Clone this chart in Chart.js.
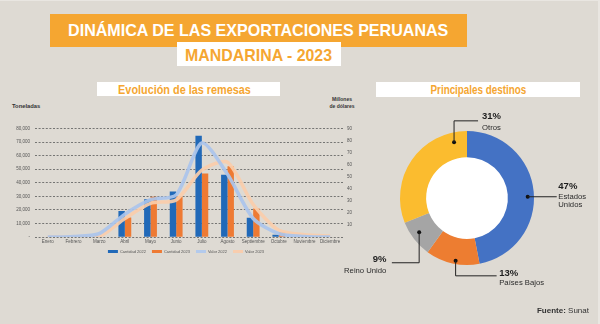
<!DOCTYPE html>
<html>
<head>
<meta charset="utf-8">
<script src="https://cdn.jsdelivr.net/npm/chart.js@4.4.0/dist/chart.umd.min.js"></script>
<style>
  html, body { margin: 0; padding: 0; }
  body {
    width: 600px; height: 324px; position: relative; overflow: hidden;
    background: #dedad3; font-family: "Liberation Sans", Arial, sans-serif;
  }
  body::after { content: ""; position: absolute; left: 0; top: 0; right: 0; bottom: 0;
    border-top: 1px solid #e9e6e1; border-right: 2px solid #e9e6e1; pointer-events: none; }
  .abs { position: absolute; }
  .narrow { font-family: "Liberation Sans", Arial, sans-serif; font-weight: bold; white-space: nowrap; text-align: center; }
  .narrow span { display: inline-block; transform-origin: 50% 50%; }
  #titleBox { left: 50px; top: 14px; width: 417px; height: 33px; background: #f5a631; }
  #title { left: 50px; width: 417px; top: 22px; font-size: 17px; line-height: 17px; color: #fff; }
  #title span { transform: scaleX(0.945); }
  #subBox { left: 177px; top: 42px; width: 164px; height: 24px; background: #fff; }
  #sub { left: 177px; width: 164px; top: 47px; font-size: 17px; line-height: 17px; color: #f5a631; }
  #sub span { transform: scaleX(0.935); }
  .hdrBox { background: #fff; height: 14px; }
  .hdr { color: #f5a631; }
  .hdr span { transform: scaleX(0.82); }
  #ton { left: 12px; top: 103px; font-size: 5.8px; line-height: 6px; font-weight: bold; color: #333; }
  #mill { left: 322px; width: 40px; top: 96px; font-size: 5px; line-height: 6.7px; font-weight: bold; color: #333; text-align: center; }
  #fuente { right: 11px; top: 307px; font-size: 8px; line-height: 8px; color: #333; }
  #barChart { left: 0; top: 109px; }
  #pieChart { left: 330px; top: 100px; }
</style>
</head>
<body>
<div class="abs" id="titleBox"></div>
<div class="abs narrow" id="title"><span>DINÁMICA DE LAS EXPORTACIONES PERUANAS</span></div>
<div class="abs" id="subBox"></div>
<div class="abs narrow" id="sub"><span>MANDARINA - 2023</span></div>

<div class="abs hdrBox" style="left:97px;top:82px;width:183px;"></div>
<div class="abs narrow hdr" style="left:93px;top:82.5px;width:183px;font-size:13px;line-height:13px;"><span style="transform:scaleX(0.835)">Evolución de las remesas</span></div>
<div class="abs hdrBox" style="left:376px;top:82px;width:204px;height:15px;"></div>
<div class="abs narrow hdr" style="left:376px;top:83.5px;width:204px;font-size:12px;line-height:12px;"><span>Principales destinos</span></div>

<div class="abs" id="ton">Toneladas</div>
<div class="abs" id="mill">Millones<br>de dólares</div>

<canvas class="abs" id="barChart" width="360" height="159" style="width:360px;height:159px;"></canvas>
<canvas class="abs" id="pieChart" width="270" height="200" style="width:270px;height:200px;"></canvas>

<div class="abs" id="fuente"><b>Fuente:</b> Sunat</div>

<script>
const meses = ["Enero", "Febrero", "Marzo", "Abril", "Mayo", "Junio", "Julio", "Agosto", "Septiembre", "Octubre", "Noviembre", "Diciembre"];
// toneladas
const cantidad2022 = [0, 0, 600, 19200, 27800, 33500, 74600, 46000, 14200, 1700, 0, 0];
const cantidad2023 = [0, 0, 300, 14400, 29800, 29900, 46800, 52200, 21100, 3700, 0, 0];
// millones de dolares
const valor2022 = [0, 0.5, 2.8, 19, 31, 35, 78, 52, 15.4, 2.8, 0.5, 0];
const valor2023 = [0, 0, 0.5, 15.4, 28, 30.8, 55.5, 62, 27, 5.6, 2, 1];

const destinos = ["Estados Unidos", "Países Bajos", "Reino Unido", "Otros"];
const participacion = [47, 13, 9, 31];

const tickFont = { family: "Liberation Sans", size: 4.5 };
const legendFont = { family: "Liberation Sans", size: 4 };

(function () {
  // pull the legend a little closer to the axis labels and under the plot
  const legendNudge = {
    id: "legendNudge",
    afterLayout(chart) {
      const lg = chart.legend;
      if (!lg) return;
      lg.top -= 3;
      lg.left += 6;
      lg.right += 6;
    }
  };

  const ctx = document.getElementById("barChart");
  new Chart(ctx, {
    data: {
      labels: meses,
      datasets: [
        { type: "bar", label: "Cantidad 2022", data: cantidad2022, yAxisID: "y", order: 2,
          backgroundColor: "#2169b8", borderColor: "#2169b8" },
        { type: "bar", label: "Cantidad 2023", data: cantidad2023, yAxisID: "y", order: 2,
          backgroundColor: "#ee7a33", borderColor: "#ee7a33" },
        { type: "line", label: "Valor 2022", data: valor2022, yAxisID: "y1", order: 1,
          borderColor: "rgba(170,196,236,0.92)", backgroundColor: "#b3caec",
          borderWidth: 3.5, pointRadius: 0, tension: 0.25 },
        { type: "line", label: "Valor 2023", data: valor2023, yAxisID: "y1", order: 1,
          borderColor: "rgba(250,205,170,0.92)", backgroundColor: "#f8cdae",
          borderWidth: 3.5, pointRadius: 0, tension: 0.25 }
      ]
    },
    options: {
      responsive: false,
      animation: false,
      layout: { padding: { top: 19.5, left: 0, right: 0, bottom: 1.5 } },
      datasets: { bar: { barPercentage: 1, categoryPercentage: 0.5 } },
      scales: {
        x: {
          grid: { display: false, drawTicks: false },
          border: { display: false },
          ticks: { font: tickFont, color: "#555", padding: 2, maxRotation: 0, autoSkip: false }
        },
        y: {
          position: "left",
          min: 0, max: 80000,
          afterFit: (s) => { s.width = 35; },
          grid: { color: "#5a5a5a", lineWidth: 0.8, drawTicks: false },
          border: { display: false, dash: [2, 1.6] },
          ticks: {
            stepSize: 10000, font: tickFont, color: "#555", padding: 5,
            callback: (v) => (v === 0 ? "-" : v.toLocaleString("en-US"))
          }
        },
        y1: {
          position: "right",
          min: 0, max: 90,
          afterFit: (s) => { s.width = 17; },
          grid: { display: false, drawTicks: false },
          border: { display: false },
          ticks: {
            stepSize: 10, font: tickFont, color: "#555", padding: 4,
            callback: (v) => (v === 0 ? "" : v)
          }
        }
      },
      plugins: {
        tooltip: { enabled: false },
        legend: {
          position: "bottom",
          labels: {
            boxWidth: 10, boxHeight: 3, padding: 6, font: legendFont, color: "#555",
            sort: (a, b) => a.datasetIndex - b.datasetIndex,
            generateLabels: (chart) =>
              Chart.defaults.plugins.legend.labels.generateLabels(chart).map((l) => ({ ...l, lineWidth: 0 }))
          }
        }
      }
    },
    plugins: [legendNudge]
  });
})();

(function () {
  // where each callout sits on its slice and how its leader runs
  const callouts = [
    { t: 0.525, r: 0.76, path: [[29, 0]], align: "left", tx: 1.6, pctDy: -10.7, nameDy: [-1, 7.6], names: ["Estados", "Unidos"] },
    { t: 0.45, r: 0.88, path: [[0, 15], [41, 15]], align: "left", tx: 2.6, pctDy: -3.4, nameDy: [6.6], names: ["Países Bajos"] },
    { t: 0.565, r: 0.69, path: [[0, 30.4], [-27.3, 30.4]], align: "right", tx: -5.5, pctDy: -4.4, nameDy: [7.3], names: ["Reino Unido"] },
    { t: 0.883, r: 0.63, path: [[0, -21.3], [24, -21.3]], align: "left", tx: 4, pctDy: -5, nameDy: [6.7], names: ["Otros"] }
  ];

  const whiteHole = {
    id: "whiteHole",
    beforeDatasetsDraw(chart) {
      const arc = chart.getDatasetMeta(0).data[0];
      const { x, y, innerRadius } = arc.getProps(["x", "y", "innerRadius"], true);
      const c = chart.ctx;
      c.save();
      c.fillStyle = "#ffffff";
      c.beginPath();
      c.arc(x, y, innerRadius + 0.5, 0, Math.PI * 2);
      c.fill();
      c.restore();
    }
  };

  const calloutPlugin = {
    id: "callouts",
    afterDatasetsDraw(chart) {
      const c = chart.ctx;
      const arcs = chart.getDatasetMeta(0).data;
      const values = chart.data.datasets[0].data;
      c.save();
      callouts.forEach((co, i) => {
        const p = arcs[i].getProps(["x", "y", "startAngle", "endAngle", "innerRadius", "outerRadius"], true);
        const a = p.startAngle + (p.endAngle - p.startAngle) * co.t;
        const r = p.innerRadius + (p.outerRadius - p.innerRadius) * co.r;
        const dx = p.x + Math.cos(a) * r;
        const dy = p.y + Math.sin(a) * r;
        c.fillStyle = "#111";
        c.beginPath();
        c.arc(dx, dy, 2, 0, Math.PI * 2);
        c.fill();
        c.strokeStyle = "#222";
        c.lineWidth = 1;
        c.beginPath();
        c.moveTo(dx, dy);
        co.path.forEach(([ox, oy]) => c.lineTo(dx + ox, dy + oy));
        c.stroke();
        const end = co.path[co.path.length - 1];
        const ex = dx + end[0] + co.tx;
        const ey = dy + end[1];
        c.textAlign = co.align;
        c.textBaseline = "alphabetic";
        c.fillStyle = "#1e1e1e";
        c.font = "bold 9.5px 'Liberation Sans', Arial, sans-serif";
        c.fillText(values[i] + "%", ex, ey + co.pctDy + 3.4);
        c.font = "7.7px 'Liberation Sans', Arial, sans-serif";
        c.fillStyle = "#2a2a2a";
        co.names.forEach((n, k) => c.fillText(n, ex, ey + co.nameDy[k] + 2.8));
      });
      c.restore();
    }
  };

  new Chart(document.getElementById("pieChart"), {
    type: "doughnut",
    data: {
      labels: destinos,
      datasets: [{
        data: participacion,
        backgroundColor: ["#4472c4", "#ed7d31", "#a5a5a5", "#fbbc2f"],
        borderWidth: 0
      }]
    },
    options: {
      responsive: false,
      animation: false,
      cutout: "61%",
      layout: { padding: { left: 70, right: 66, top: 31, bottom: 35 } },
      plugins: { legend: { display: false }, tooltip: { enabled: false } }
    },
    plugins: [whiteHole, calloutPlugin]
  });
})();
</script>
</body>
</html>
